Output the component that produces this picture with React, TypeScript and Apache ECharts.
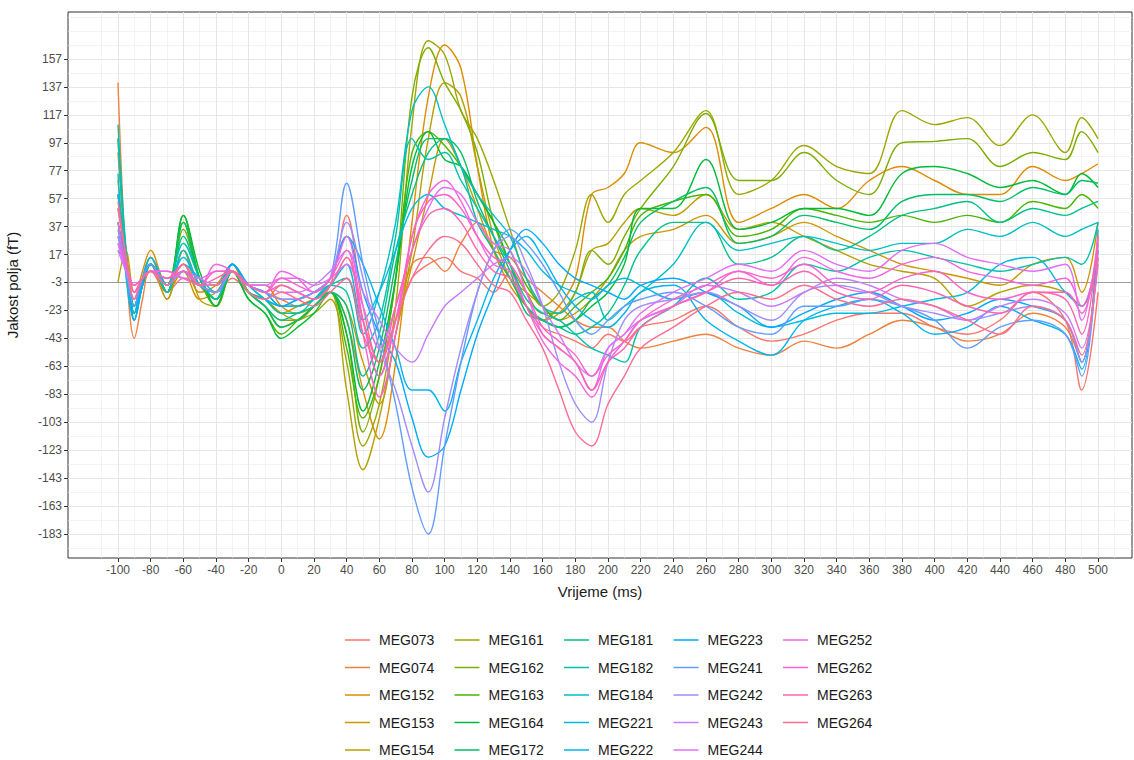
import React, { useEffect, useRef } from "react";
import * as echarts from "echarts";

const X = [-100,-95,-90,-85,-80,-70,-60,-50,-40,-30,-20,-10,0,10,20,30,40,50,60,70,80,90,100,110,120,130,140,150,160,170,180,190,200,210,220,240,260,280,300,320,340,360,380,400,420,440,460,480,490,500];

const names = ["MEG073","MEG074","MEG152","MEG153","MEG154","MEG161","MEG162","MEG163","MEG164","MEG172","MEG181","MEG182","MEG184","MEG221","MEG222","MEG223","MEG241","MEG242","MEG243","MEG244","MEG252","MEG262","MEG263","MEG264"];

const MEG073 = [60,20,-20,-5,5,-10,0,-5,-10,0,-10,-15,-5,-10,-15,-5,45,-20,-60,-30,0,10,15,5,0,-10,5,-20,-35,-40,-45,-50,-40,-45,-35,-30,-20,-35,-45,-40,-30,-25,-25,-35,-40,-30,-10,-30,-80,-10];
const MEG074 = [140,10,-43,-15,10,-15,20,-5,-15,5,-5,-10,-15,-20,-15,-5,15,-30,-70,-30,10,15,5,25,40,20,15,0,-10,-20,-30,-35,-35,-45,-50,-45,-40,-50,-55,-45,-50,-40,-30,-35,-45,-40,-25,-35,-60,30];
const MEG152 = [100,15,-15,5,20,-5,10,-10,-5,10,-5,-5,-20,-25,-20,-10,-30,-80,-115,-60,40,130,167,150,80,20,-5,-20,-30,-20,0,60,65,75,97,90,108,40,50,60,50,70,80,70,60,60,80,70,75,82];
const MEG153 = [90,20,-20,0,15,-10,5,-15,-10,5,-10,-15,-25,-20,-15,-10,-20,-60,-90,-40,10,60,100,80,50,20,0,-10,-20,-30,-25,-15,0,20,30,35,45,25,30,40,30,20,10,5,0,-5,10,15,-10,40];
const MEG154 = [-3,20,-10,0,10,-15,20,-15,-20,5,-10,-15,-25,-30,-20,-10,-80,-137,-100,-40,20,100,140,130,80,30,0,-20,-30,-25,-10,20,25,40,50,45,60,35,40,30,20,10,5,0,-20,-10,-5,-10,-20,10];
const MEG161 = [70,15,-25,-5,15,-5,40,0,-20,10,-10,-20,-35,-30,-25,-15,-60,-120,-90,-20,110,170,160,120,100,70,35,0,-20,-10,20,60,40,60,70,90,120,60,70,95,80,75,120,110,115,95,117,90,115,100];
const MEG162 = [50,15,-20,-5,10,-10,35,0,-15,10,-10,-20,-30,-30,-20,-10,-40,-110,-70,0,130,165,140,120,90,40,10,-10,-25,-25,-10,20,10,30,50,80,118,70,70,90,70,60,97,98,100,80,90,85,105,90];
const MEG163 = [40,10,-20,0,10,-10,45,0,-20,5,-15,-25,-40,-30,-20,-10,-50,-100,-70,0,90,105,95,80,60,40,20,-5,-20,-30,-20,-10,0,20,45,55,60,30,35,50,45,40,45,40,45,40,55,50,60,50];
const MEG164 = [20,10,-30,-5,10,-10,45,5,-20,5,-15,-25,-43,-35,-25,-10,-40,-95,-60,0,80,105,85,80,60,40,10,-20,-30,-35,-30,-20,-10,10,50,50,85,35,40,50,50,45,75,80,75,65,70,60,75,65];
const MEG172 = [30,10,-25,-5,10,-10,40,0,-15,5,-10,-20,-35,-30,-20,-10,-30,-80,-50,10,70,100,100,90,55,30,5,-25,-30,-35,-30,-15,-5,15,40,55,65,25,30,45,40,35,55,60,60,55,65,60,70,68];
const MEG181 = [60,15,-20,0,10,-10,30,0,-15,5,-10,-20,-30,-25,-20,-10,-20,-70,-40,20,60,90,100,80,40,20,0,-20,-30,-35,-40,-35,-25,-5,20,40,40,10,15,30,20,30,45,50,55,40,50,45,50,55];
const MEG182 = [110,20,-25,0,15,-5,25,0,-15,10,-5,-15,-25,-25,-15,-5,-10,-50,-30,30,100,85,90,70,50,30,10,-15,-25,-30,-40,-50,-55,-60,-35,-20,0,-15,-10,10,5,15,20,15,10,5,10,15,10,40];
const MEG184 = [100,15,-20,0,10,-10,20,-5,-10,5,-10,-15,-20,-20,-15,-5,0,-40,-10,40,120,137,110,80,60,45,30,0,-20,-25,-15,-10,-30,-20,-10,10,40,20,25,30,25,20,25,25,35,30,40,30,35,40];
const MEG221 = [75,0,-30,-5,10,-5,15,-5,-10,10,-5,-10,-20,-20,-15,-5,10,-30,-10,20,50,60,50,45,40,35,30,20,5,-5,-10,-15,-5,0,-5,-15,-10,-25,-35,-30,-25,-25,-20,-15,-10,10,15,-10,-20,20];
const MEG222 = [60,10,-25,0,15,-5,10,0,-10,10,-5,-15,-20,-15,-10,0,30,10,-20,-50,-80,-80,-95,-60,-30,0,20,30,15,-5,-20,-30,-35,-25,-10,-5,-30,-45,-55,-30,-20,-15,-25,-40,-35,-20,-30,-40,-65,35];
const MEG223 = [40,10,-30,-5,10,-5,5,-5,-5,10,-5,-10,-20,-15,-10,0,30,-10,-40,-60,-100,-128,-120,-80,-40,-10,20,35,25,10,0,-5,-10,-15,-5,0,-10,-20,-35,-25,-15,-10,-20,-30,-25,-15,-20,-30,-60,20];
const MEG241 = [35,5,-20,0,10,-5,5,-5,-10,5,-5,-10,-15,-15,-10,0,68,10,-40,-90,-150,-183,-120,-60,-10,20,35,25,10,-10,-30,-40,-30,-20,-15,-10,-20,-35,-40,-20,-20,-15,-20,-30,-50,-35,-30,-40,-70,25];
const MEG242 = [30,5,-15,0,5,-5,5,-5,-10,5,-5,-10,-15,-15,-10,0,40,0,-50,-80,-120,-153,-100,-50,-10,20,30,10,-20,-60,-90,-103,-60,-30,-20,-15,-10,-20,-30,-10,-5,-10,-20,-25,-30,-25,-20,-30,-60,15];
const MEG243 = [25,5,-10,0,5,0,5,0,-5,5,-5,-5,-10,-10,-5,5,20,-10,-30,-50,-60,-40,-20,-10,0,10,15,5,-20,-40,-60,-70,-50,-40,-30,-20,-5,-10,-20,-10,0,-5,-15,-20,-30,-20,-15,-25,-50,10];
const MEG244 = [20,5,-5,0,5,5,0,0,5,5,-5,-5,0,0,-5,0,10,-20,-50,-20,20,50,65,60,40,25,20,-10,-40,-50,-60,-80,-50,-40,-25,-10,0,10,5,20,10,5,20,25,15,10,5,10,-30,30];
const MEG252 = [25,10,-5,0,5,5,0,-5,10,5,-5,-10,5,0,-10,0,30,-30,-70,-30,30,60,70,55,30,10,5,-20,-45,-60,-70,-85,-60,-45,-30,-20,-10,5,-5,15,5,0,10,15,5,0,-5,0,-20,20];
const MEG262 = [40,10,-5,0,5,0,5,-5,5,5,-5,-10,0,-5,-10,0,20,-40,-85,-40,30,55,60,50,30,15,10,-10,-35,-45,-55,-70,-55,-45,-30,-15,-5,5,0,10,-5,-10,0,5,-10,-15,-10,-10,-25,25];
const MEG263 = [50,15,-10,0,5,0,10,-5,0,5,-5,-10,-5,-10,-15,-5,15,-30,-60,-20,20,45,50,40,20,5,0,-20,-40,-50,-60,-80,-60,-50,-35,-20,-10,0,-5,5,-10,-15,-5,-10,-20,-25,-10,-15,-40,30];
const MEG264 = [55,15,-15,0,5,-5,10,-5,-5,5,-10,-15,-10,-15,-20,-10,0,-40,-60,-30,0,20,30,25,10,-5,-10,-30,-50,-80,-110,-120,-90,-70,-50,-35,-20,-10,-15,-5,-15,-20,-15,-20,-30,-40,-20,-30,-55,15];

const values = [MEG073,MEG074,MEG152,MEG153,MEG154,MEG161,MEG162,MEG163,MEG164,MEG172,MEG181,MEG182,MEG184,MEG221,MEG222,MEG223,MEG241,MEG242,MEG243,MEG244,MEG252,MEG262,MEG263,MEG264];

const xMajor = [-100,-80,-60,-40,-20,0,20,40,60,80,100,120,140,160,180,200,220,240,260,280,300,320,340,360,380,400,420,440,460,480,500];
const xMinor = [-110,-90,-70,-50,-30,-10,10,30,50,70,90,110,130,150,170,190,210,230,250,270,290,310,330,350,370,390,410,430,450,470,490,510];
const yMajor = [-183,-163,-143,-123,-103,-83,-63,-43,-23,-3,17,37,57,77,97,117,137,157];
const yMinor = [-193,-173,-153,-133,-113,-93,-73,-53,-33,-13,7,27,47,67,87,107,127,147,167,177,187];

function hcl(h: number, c = 100, l = 65): string {
  const hr = (h * Math.PI) / 180;
  const u = c * Math.cos(hr), v = c * Math.sin(hr);
  const Xn = 95.047, Yn = 100, Zn = 108.883;
  const d = Xn + 15 * Yn + 3 * Zn;
  const un = (4 * Xn) / d, vn = (9 * Yn) / d;
  const Y = Yn * Math.pow((l + 16) / 116, 3);
  const up = u / (13 * l) + un, vp = v / (13 * l) + vn;
  const Xv = (Y * 9 * up) / (4 * vp), Zv = (Y * (12 - 3 * up - 20 * vp)) / (4 * vp);
  const x = Xv / 100, y = Y / 100, z = Zv / 100;
  const lin = [
    3.2404542 * x - 1.5371385 * y - 0.4985314 * z,
    -0.969266 * x + 1.8760108 * y + 0.041556 * z,
    0.0556434 * x - 0.2040259 * y + 1.0572252 * z,
  ];
  const hex = lin.map((q) => {
    let g = q <= 0.0031308 ? 12.92 * q : 1.055 * Math.pow(q, 1 / 2.4) - 0.055;
    g = Math.max(0, Math.min(1, g));
    return Math.round(g * 255).toString(16).padStart(2, "0");
  });
  return "#" + hex.join("");
}

export default function App() {
  const ref = useRef<HTMLDivElement>(null);
  useEffect(() => {
    document.body.style.margin = "0";
    const chart = echarts.init(ref.current!, null, { renderer: "svg" });
    const colors = names.map((_, i) => hcl(15 + 15 * i));
    const series: any[] = names.map((n, i) => ({
      name: n,
      type: "line",
      xAxisIndex: 0,
      yAxisIndex: 0,
      data: X.map((x, j) => [x, values[i][j]]),
      smooth: 0.35,
      showSymbol: false,
      symbol: "none",
      color: colors[i],
      lineStyle: { width: 1.4, color: colors[i] },
      z: 3,
    }));
    series[0].markLine = {
      silent: true,
      symbol: "none",
      label: { show: false },
      lineStyle: { color: "#8c8c8c", width: 0.8, type: "solid" },
      data: [{ yAxis: -3 }],
      z: 1,
    };
    const legends = [0, 1, 2, 3, 4].map((c) => ({
      orient: "vertical",
      left: 345 + c * 109.5,
      top: 633,
      padding: 0,
      data: names.slice(c * 5, c * 5 + 5),
      icon: "rect",
      itemWidth: 25,
      itemHeight: 1.5,
      itemGap: 13.5,
      selectedMode: false,
      textStyle: { fontSize: 14, color: "#1a1a1a", fontFamily: "Liberation Sans, Arial", padding: [0, 0, 0, 4], lineHeight: 14 },
    }));
    const labStyle = { fontSize: 12, color: "#4d4d4d", fontFamily: "Liberation Sans, Arial" };
    const hiddenTick = { show: true, length: 0, lineStyle: { opacity: 0 } };
    chart.setOption({
      animation: false,
      grid: { left: 68, right: 2, top: 12, bottom: 202, show: true, borderColor: "#333333", borderWidth: 1, backgroundColor: "#fff" },
      legend: legends,
      xAxis: [
        {
          type: "value", min: -130.6, max: 520.8,
          axisLine: { show: false, onZero: false },
          axisTick: { show: true, length: 4, lineStyle: { color: "#333" }, customValues: xMajor },
          axisLabel: { customValues: xMajor, ...labStyle, margin: 6 },
          splitLine: { show: true, lineStyle: { color: "#e6e6e6", width: 1 } },
        },
        {
          type: "value", min: -130.6, max: 520.8,
          axisLine: { show: false, onZero: false },
          axisTick: { ...hiddenTick, customValues: xMinor },
          axisLabel: { show: false, customValues: xMinor },
          splitLine: { show: true, lineStyle: { color: "#ebebeb", width: 0.6 } },
        },
      ],
      yAxis: [
        {
          type: "value", min: -200.2, max: 190.6,
          axisLine: { show: false, onZero: false },
          axisTick: { show: true, length: 4, lineStyle: { color: "#333" }, customValues: yMajor },
          axisLabel: { customValues: yMajor, ...labStyle, margin: 6 },
          splitLine: { show: true, lineStyle: { color: "#e6e6e6", width: 1 } },
        },
        {
          type: "value", min: -200.2, max: 190.6,
          axisLine: { show: false, onZero: false },
          axisTick: { ...hiddenTick, customValues: yMinor },
          axisLabel: { show: false, customValues: yMinor },
          splitLine: { show: true, lineStyle: { color: "#ebebeb", width: 0.6 } },
        },
      ],
      graphic: [
        { type: "text", x: 600, y: 584, style: { text: "Vrijeme (ms)", fontSize: 15, fill: "#1a1a1a", fontFamily: "Liberation Sans, Arial", textAlign: "center" } },
        { type: "text", x: 12, y: 285, rotation: Math.PI / 2, style: { text: "Jakost polja (fT)", fontSize: 15, fill: "#1a1a1a", fontFamily: "Liberation Sans, Arial", textAlign: "center", textVerticalAlign: "middle" } },
      ],
      series,
    });
    return () => chart.dispose();
  }, []);
  return <div ref={ref} style={{ width: 1134, height: 760 }} />;
}
